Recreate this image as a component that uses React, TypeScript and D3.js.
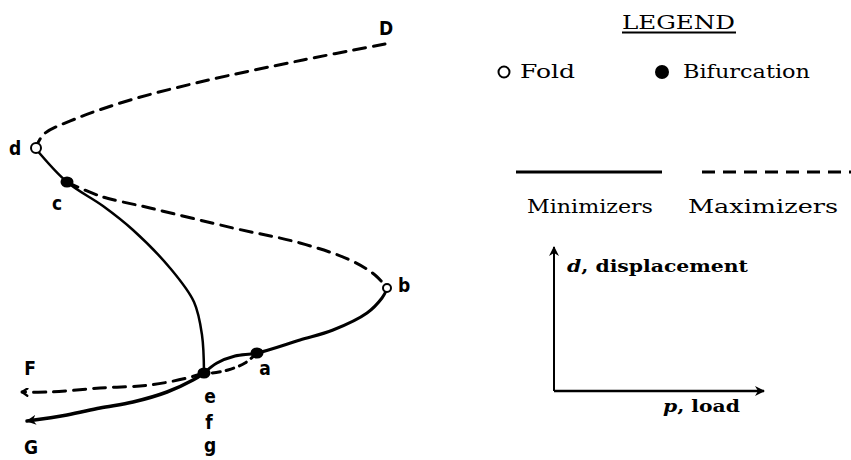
import React from 'react'
import * as d3 from 'd3'

// branches of the load/displacement path, [p, d]
const maxUpper: [number, number][] = [
  [36.5, 38.6], [28.3, 37.0], [18.0, 34.8], [10.7, 32.9], [5.5, 31.1],
  [2.4, 29.6], [1.7, 28.5]
]
const minUpper: [number, number][] = [
  [1.6, 28.1], [4.7, 24.8], [8.3, 22.4], [11.3, 20.0], [15.0, 16.2],
  [17.4, 12.8], [18.2, 9.5], [18.4, 5.7]
]
const maxMiddle: [number, number][] = [
  [4.7, 24.8], [8.0, 23.4], [13.0, 22.2], [21.3, 20.2], [28.0, 18.7],
  [33.0, 17.0], [35.5, 15.5], [36.7, 14.2]
]
const minLower: [number, number][] = [
  [36.7, 14.1], [36.2, 13.2], [34.7, 11.7], [31.3, 10.0], [28.0, 9.0],
  [23.7, 7.7], [21.5, 7.4], [19.7, 6.7], [18.4, 5.7]
]
const maxLower: [number, number][] = [
  [23.7, 7.7], [22.5, 6.7], [20.8, 6.0], [19.2, 5.7], [18.4, 5.7]
]
const branchF: [number, number][] = [
  [18.4, 5.7], [16.7, 5.2], [13.0, 4.5], [8.0, 4.2], [3.0, 3.8], [0.2, 3.8]
]
const branchG: [number, number][] = [
  [18.4, 5.7], [17.3, 5.0], [14.7, 3.8], [11.3, 2.8], [8.0, 2.2], [4.7, 1.5], [0.7, 0.9]
]

const folds: [number, number][] = [[1.6, 28.2], [36.7, 14.2]]
const bifurcations: [number, number][] = [[4.7, 24.8], [23.7, 7.7], [18.4, 5.7]]

// name, p, d, dx, dy
const pointLabels: [string, number, number, number, number][] = [
  ['D', 36.7, 38.7, -1, -8],
  ['d', 1.6, 28.2, -21, 7],
  ['c', 4.7, 24.8, -10, 28],
  ['b', 36.7, 14.2, 17, 4],
  ['a', 23.7, 7.7, 8, 22],
  ['e', 18.4, 5.7, 6, 30],
  ['f', 18.4, 5.7, 5, 56],
  ['g', 18.4, 5.7, 6, 79],
  ['F', 0.2, 3.8, 8, -17],
  ['G', 0.7, 0.9, 4, 33]
]

const W = 851
const H = 460

const x = d3.scaleLinear().domain([0, 37]).range([20, 390])
const y = d3.scaleLinear().domain([0, 39]).range([430, 40])

const line = d3
  .line<[number, number]>()
  .x(d => x(d[0]))
  .y(d => y(d[1]))
  .curve(d3.curveCatmullRom.alpha(0.5))

const ink = '#000'
const dash = '12 8'
const labelFont = 'DejaVu Sans Condensed, DejaVu Sans, sans-serif'
const serif = 'DejaVu Serif, Liberation Serif, serif'

export default function App() {
  return (
    <svg
      width={W}
      height={H}
      style={{position: 'absolute', left: 0, top: 0, background: '#fff'}}
    >
      <defs>
        <marker id="arrowOpen" viewBox="0 0 10 10" refX="9" refY="5" markerWidth="9" markerHeight="9" orient="auto" markerUnits="userSpaceOnUse">
          <path d="M3,1 L9,5 L3,9" fill="none" stroke={ink} strokeWidth={2.5} strokeLinecap="round" />
        </marker>
        <marker id="arrowFill" viewBox="0 0 10 10" refX="9" refY="5" markerWidth="10" markerHeight="10" orient="auto" markerUnits="userSpaceOnUse">
          <path d="M0,0 L10,5 L0,10 L3,5 Z" fill={ink} />
        </marker>
        <marker id="axisArrow" viewBox="0 0 10 10" refX="9" refY="5" markerWidth="10" markerHeight="10" orient="auto" markerUnits="userSpaceOnUse">
          <path d="M0,0 L10,5 L0,10 L3,5 Z" fill={ink} />
        </marker>
      </defs>

      {/* branches */}
      <g fill="none" stroke={ink} strokeLinecap="round">
        <path d={line(maxUpper) || ''} strokeWidth={3} strokeDasharray={dash} />
        <path d={line(maxMiddle) || ''} strokeWidth={3} strokeDasharray={dash} />
        <path d={line(maxLower) || ''} strokeWidth={3} strokeDasharray="8 6" />
        <path d={line(branchF) || ''} strokeWidth={3} strokeDasharray={dash} markerEnd="url(#arrowOpen)" />
        <path d={line(minUpper) || ''} strokeWidth={2.5} />
        <path d={line(minLower) || ''} strokeWidth={3} />
        <path d={line(branchG) || ''} strokeWidth={3.5} markerEnd="url(#arrowFill)" />
      </g>

      {/* fold and bifurcation points */}
      {folds.map((d, i) => (
        <circle key={'f' + i} cx={x(d[0])} cy={y(d[1])} r={i === 0 ? 5 : 4} fill="#fff" stroke={ink} strokeWidth={2} />
      ))}
      {bifurcations.map((d, i) => (
        <ellipse key={'b' + i} cx={x(d[0])} cy={y(d[1])} rx={6.5} ry={5.5} fill={ink} />
      ))}

      {/* point labels */}
      <g fontFamily={labelFont} fontSize={19} fontWeight="bold" fill={ink} textAnchor="middle">
        {pointLabels.map(([t, p, d, dx, dy]) => (
          <text key={t} x={x(p) + dx} y={y(d) + dy}>{t}</text>
        ))}
      </g>

      {/* legend */}
      <g fontFamily={serif} fill={ink}>
        <text x={622} y={29} fontSize={19} textLength={113} lengthAdjust="spacingAndGlyphs">LEGEND</text>
        <line x1={622} x2={736} y1={32.5} y2={32.5} stroke={ink} strokeWidth={2} />

        <circle cx={504} cy={72} r={5.5} fill="#fff" stroke={ink} strokeWidth={2} />
        <text x={520} y={78} fontSize={18} textLength={55} lengthAdjust="spacingAndGlyphs">Fold</text>
        <circle cx={662} cy={72} r={7} fill={ink} />
        <text x={683} y={78} fontSize={18} textLength={127} lengthAdjust="spacingAndGlyphs">Bifurcation</text>

        <line x1={516} x2={662} y1={172} y2={172} stroke={ink} strokeWidth={3} />
        <line x1={702} x2={851} y1={172} y2={172} stroke={ink} strokeWidth={3} strokeDasharray="13 8" />
        <text x={527} y={213} fontSize={18} textLength={126} lengthAdjust="spacingAndGlyphs">Minimizers</text>
        <text x={688} y={213} fontSize={18} textLength={150} lengthAdjust="spacingAndGlyphs">Maximizers</text>

        {/* schematic axes */}
        <line x1={554} x2={554} y1={391} y2={247} stroke={ink} strokeWidth={2} markerEnd="url(#axisArrow)" />
        <line x1={554} x2={764} y1={391} y2={391} stroke={ink} strokeWidth={2.5} markerEnd="url(#axisArrow)" />
        <text x={567} y={272} fontSize={17} fontWeight="bold" textLength={181} lengthAdjust="spacingAndGlyphs">
          <tspan fontStyle="italic">d</tspan>, displacement
        </text>
        <text x={663} y={412} fontSize={17} fontWeight="bold" textLength={77} lengthAdjust="spacingAndGlyphs">
          <tspan fontStyle="italic">p</tspan>, load
        </text>
      </g>
    </svg>
  )
}
